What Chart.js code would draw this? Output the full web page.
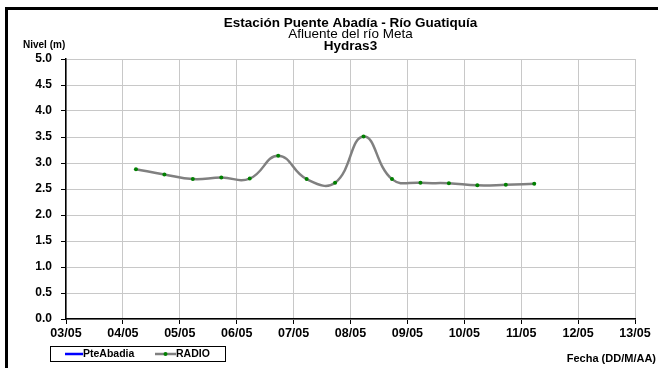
<!DOCTYPE html>
<html>
<head>
<meta charset="utf-8">
<script src="https://cdn.jsdelivr.net/npm/chart.js@4.4.1/dist/chart.umd.min.js"></script>
<style>
  html, body { margin: 0; padding: 0; background: #fff; }
  #wrap { position: relative; width: 658px; height: 368px; overflow: hidden; }
  #frame { position: absolute; left: 5px; top: 7px; width: 700px; height: 400px;
           border-left: 3px solid #000; border-top: 3px solid #000; box-sizing: border-box; }
  canvas { position: absolute; left: 0; top: 0; }
</style>
</head>
<body>
<div id="wrap">
  <div id="frame"></div>
  <canvas id="nivelChart" width="658" height="368"></canvas>
</div>
<script>
// Chart data
const titleLines = ['Estación Puente Abadía - Río Guatiquía', 'Afluente del río Meta', 'Hydras3'];
const tickLabels = ['03/05', '04/05', '05/05', '06/05', '07/05', '08/05', '09/05', '10/05', '11/05', '12/05', '13/05'];
const radioTimes = ['04/05 05:30', '04/05 17:30', '05/05 05:30', '05/05 17:30', '06/05 05:30',
                    '06/05 17:30', '07/05 05:30', '07/05 17:30', '08/05 05:30', '08/05 17:30',
                    '09/05 05:30', '09/05 17:30', '10/05 05:30', '10/05 17:30', '11/05 05:30'];
const radioValues = [2.88, 2.78, 2.69, 2.72, 2.70, 3.14, 2.69, 2.62, 3.51, 2.69, 2.62, 2.61, 2.57, 2.58, 2.60];
const pteAbadiaValues = [];

// days elapsed since the first tick label (03/05)
function toDays(str) {
  const [date, time] = str.split(' ');
  const day = parseInt(date.split('/')[0], 10);
  const [h, m] = time.split(':').map(Number);
  return day - parseInt(tickLabels[0], 10) + (h + m / 60) / 24;
}

const radioPoints = radioTimes.map((t, i) => ({ x: toDays(t), y: radioValues[i] }));

const FONT = '"Liberation Sans", Arial, sans-serif';

// Titles, axis captions and legend box
const decorPlugin = {
  id: 'decor',
  afterDraw(chart) {
    const ctx = chart.ctx;
    const area = chart.chartArea;
    const cx = (area.left + area.right) / 2;
    ctx.save();
    ctx.fillStyle = '#000';
    ctx.textAlign = 'center';
    ctx.textBaseline = 'middle';
    ctx.font = 'bold 13.5px ' + FONT;
    ctx.fillText(titleLines[0], cx, 23);
    ctx.font = '13.5px ' + FONT;
    ctx.fillText(titleLines[1], cx, 34.5);
    ctx.font = 'bold 13.5px ' + FONT;
    ctx.fillText(titleLines[2], cx, 46.5);

    ctx.font = 'bold 10px ' + FONT;
    ctx.textAlign = 'left';
    ctx.fillText('Nivel (m)', 23, 45);
    ctx.font = 'bold 11px ' + FONT;
    ctx.textAlign = 'right';
    ctx.fillText('Fecha (DD/M/AA)', 656, 359);

    // legend
    ctx.strokeStyle = '#000';
    ctx.lineWidth = 1;
    ctx.fillStyle = '#fff';
    ctx.fillRect(50.5, 346.5, 175, 15);
    ctx.strokeRect(50.5, 346.5, 175, 15);

    ctx.strokeStyle = '#0000ff';
    ctx.lineWidth = 2.5;
    ctx.beginPath(); ctx.moveTo(65, 354); ctx.lineTo(83, 354); ctx.stroke();
    ctx.strokeStyle = '#808080';
    ctx.beginPath(); ctx.moveTo(155, 354); ctx.lineTo(176, 354); ctx.stroke();
    ctx.fillStyle = '#008000';
    ctx.beginPath(); ctx.arc(165.5, 354, 2, 0, Math.PI * 2); ctx.fill();

    ctx.fillStyle = '#000';
    ctx.font = 'bold 10.5px ' + FONT;
    ctx.textAlign = 'left';
    ctx.fillText('PteAbadia', 83, 354.5);
    ctx.fillText('RADIO', 176, 354.5);
    ctx.restore();
  }
};

const ctx = document.getElementById('nivelChart').getContext('2d');
const nivelChart = new Chart(ctx, {
  type: 'line',
  data: {
    datasets: [{
      label: 'PteAbadia',
      data: pteAbadiaValues,
      borderColor: '#0000ff',
      borderWidth: 2.5,
      pointRadius: 0
    }, {
      label: 'RADIO',
      data: radioPoints,
      borderColor: '#808080',
      borderWidth: 2.5,
      tension: 0.45,
      pointRadius: 2,
      pointBackgroundColor: '#008000',
      pointBorderWidth: 0
    }]
  },
  options: {
    responsive: false,
    animation: false,
    layout: {
      padding: { top: 59, right: 23, bottom: 0, left: 0 }
    },
    plugins: {
      legend: { display: false },
      title: { display: false },
      tooltip: { enabled: false }
    },
    scales: {
      x: {
        type: 'linear',
        min: 0,
        max: tickLabels.length - 1,
        afterFit: (scale) => { scale.height = 49; },
        ticks: {
          stepSize: 1,
          padding: 2,
          color: '#000',
          font: { family: FONT, size: 12.5, weight: 'bold' },
          callback: (value) => tickLabels[value]
        },
        grid: { color: '#c8c8c8', lineWidth: 1, tickColor: '#000', tickLength: 5 },
        border: { color: '#000', width: 1.5 }
      },
      y: {
        min: 0,
        max: 5,
        afterFit: (scale) => { scale.width = 66; },
        ticks: {
          stepSize: 0.5,
          padding: 9,
          color: '#000',
          font: { family: FONT, size: 12, weight: 'bold' },
          callback: (value) => value.toFixed(1)
        },
        grid: { color: '#c8c8c8', lineWidth: 1, tickColor: '#000', tickLength: 5 },
        border: { color: '#000', width: 1.5 }
      }
    }
  },
  plugins: [decorPlugin]
});
</script>
</body>
</html>
